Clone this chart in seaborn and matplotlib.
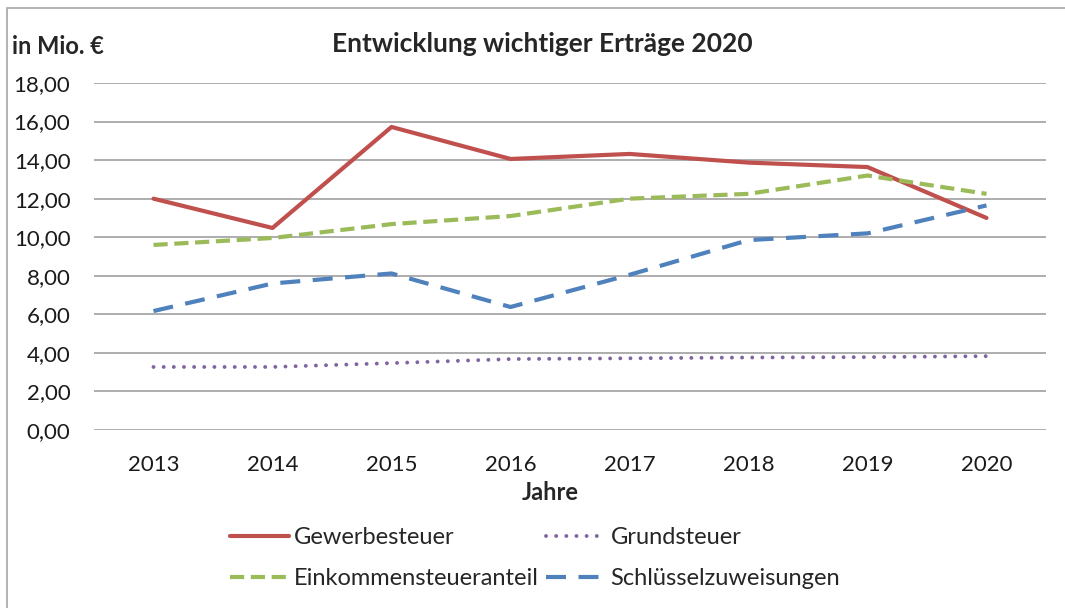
import pandas as pd
import seaborn as sns
import matplotlib.pyplot as plt
from matplotlib.patches import Rectangle
from matplotlib.ticker import FuncFormatter

# Data (in Mio. EUR)
jahre = ['2013', '2014', '2015', '2016', '2017', '2018', '2019', '2020']
gewerbesteuer = [12.00, 10.48, 15.72, 14.06, 14.32, 13.87, 13.64, 11.00]
grundsteuer = [3.27, 3.27, 3.47, 3.68, 3.72, 3.76, 3.78, 3.83]
einkommensteueranteil = [9.60, 9.96, 10.68, 11.10, 12.00, 12.25, 13.20, 12.25]
schluesselzuweisungen = [6.17, 7.60, 8.12, 6.38, 8.05, 9.85, 10.20, 11.65]

series = {
    'Gewerbesteuer': gewerbesteuer,
    'Grundsteuer': grundsteuer,
    'Einkommensteueranteil': einkommensteueranteil,
    'Schlüsselzuweisungen': schluesselzuweisungen,
}

styles = {
    'Gewerbesteuer': dict(color='#C0504D', lw=3.0, linestyle='-'),
    'Grundsteuer': dict(color='#8064A2', lw=2.8, linestyle=(0, (0.01, 2.6)),
                        dash_capstyle='round'),
    'Einkommensteueranteil': dict(color='#9BBB59', lw=3.0, linestyle=(0, (3.4, 1.6))),
    'Schlüsselzuweisungen': dict(color='#4F81BD', lw=3.0, linestyle=(0, (4.8, 3.0))),
}

sns.set_style('white')
plt.rcParams['font.family'] = ['Lato', 'DejaVu Sans']

fig = plt.figure(figsize=(10.65, 6.08), dpi=100)
ax = fig.add_axes([94 / 1065, 1 - 430 / 608, (1046 - 94) / 1065, (430 - 83) / 608])

lines = {}
for name, values in series.items():
    df = pd.DataFrame({'Jahr': jahre, 'Wert': values})
    sns.lineplot(data=df, x='Jahr', y='Wert', ax=ax, label=name, **styles[name])
    lines[name] = ax.get_lines()[-1]

ax.set_xlim(-0.5, len(jahre) - 0.5)
ax.set_ylim(0, 18)
ax.set_yticks(range(0, 19, 2))
ax.yaxis.set_major_formatter(FuncFormatter(lambda v, p: f'{v:.2f}'.replace('.', ',')))
ax.grid(axis='y', color='#A0A0A0', lw=1.2)
ax.grid(axis='x', visible=False)
for s in ax.spines.values():
    s.set_visible(False)
ax.tick_params(axis='y', length=0, pad=17, labelsize=16, labelcolor='#1a1a1a')
ax.tick_params(axis='x', length=0, pad=18, labelsize=16, labelcolor='#1a1a1a')
ax.set_xlabel('')
ax.set_ylabel('')

fig.text(542 / 1065, 1 - 44 / 608, 'Entwicklung wichtiger Erträge 2020', ha='center',
         va='center', fontsize=19, fontweight='bold')
fig.text(12 / 1065, 1 - 47 / 608, 'in Mio. €', ha='left', va='center',
         fontsize=17, fontweight='bold')
fig.text(550 / 1065, 1 - 493 / 608, 'Jahre', ha='center', va='center',
         fontsize=17, fontweight='bold')

# legend filled row by row (matplotlib fills columns first)
order = ['Gewerbesteuer', 'Einkommensteueranteil', 'Grundsteuer', 'Schlüsselzuweisungen']
ax.legend([lines[n] for n in order], order, loc='center',
          bbox_to_anchor=(535 / 1065, 1 - 558 / 608),
          bbox_transform=fig.transFigure, ncol=2, frameon=False, fontsize=17,
          handlelength=2.5, handletextpad=0.22, columnspacing=0.3, labelspacing=0.85)

# outer chart frame
fig.add_artist(Rectangle((7 / 1065, -0.1), 1.2, 1 - 8 / 608 + 0.1, transform=fig.transFigure,
                         fill=False, edgecolor='#A6A6A6', lw=1.2, clip_on=False))

plt.savefig('out.png', dpi=100)
